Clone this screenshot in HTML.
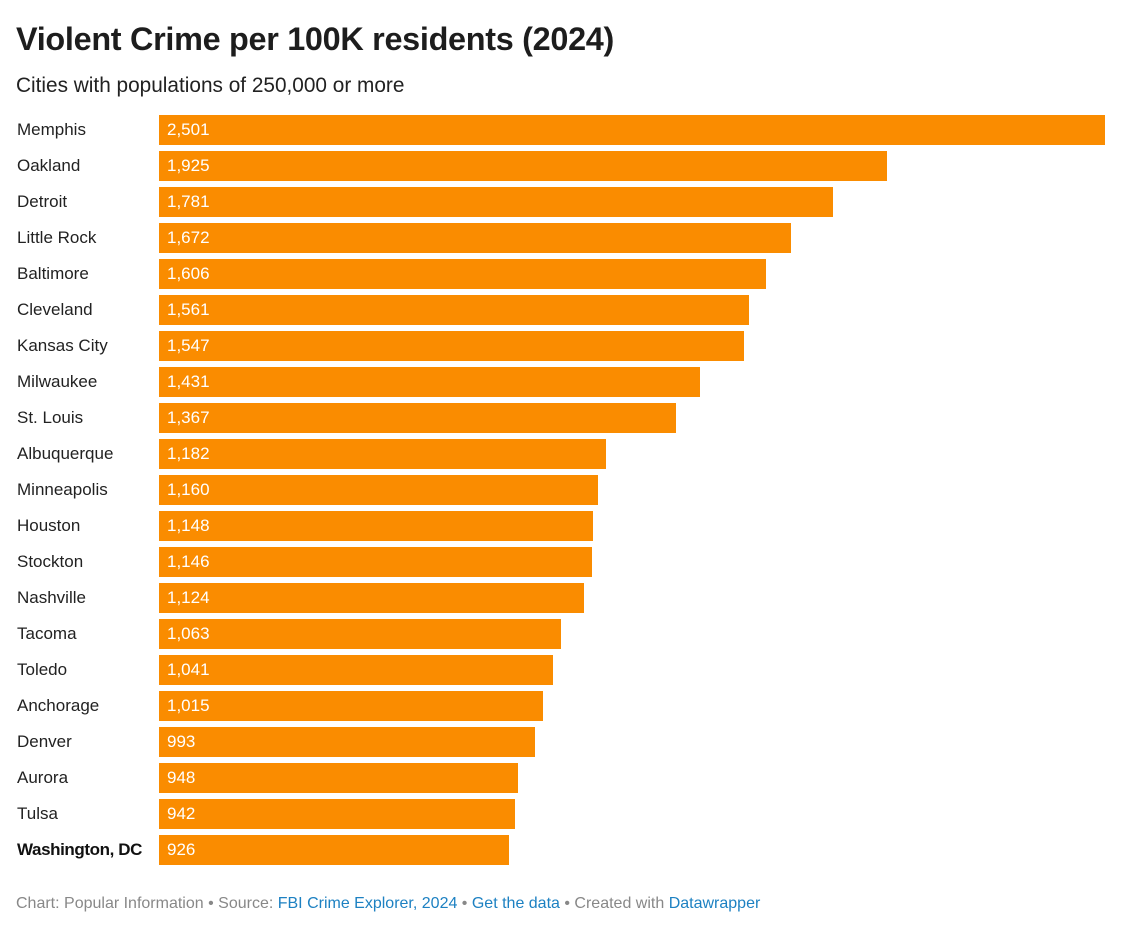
<!DOCTYPE html>
<html><head><meta charset="utf-8">
<style>
body{margin:0;width:1142px;height:938px;background:#fff;font-family:"Liberation Sans",sans-serif;position:relative;overflow:hidden}
#title{position:absolute;left:16px;top:21px;font-size:32.4px;font-weight:bold;color:#1d1d1d;letter-spacing:-0.3px}
#sub{position:absolute;left:16px;top:74px;font-size:20.8px;color:#222}
.lab{position:absolute;left:17px;font-size:17px;color:#222;height:30px;line-height:30px}
.bar{position:absolute;left:159px;height:30px;background:#fa8c00}
.val{position:absolute;left:8px;top:0;line-height:30px;font-size:17px;color:#fff}
#foot{position:absolute;left:16px;top:895px;font-size:16px;color:#888}
#foot a{color:#1d81c2;text-decoration:none}
</style></head><body>
<div id="title">Violent Crime per 100K residents (2024)</div>
<div id="sub">Cities with populations of 250,000 or more</div>
<div id="chart"></div>
<div id="foot">Chart: Popular Information • Source: <a>FBI Crime Explorer, 2024</a> • <a>Get the data</a> • Created with <a>Datawrapper</a></div>
<script>
const cities=["Memphis","Oakland","Detroit","Little Rock","Baltimore","Cleveland","Kansas City","Milwaukee","St. Louis","Albuquerque","Minneapolis","Houston","Stockton","Nashville","Tacoma","Toledo","Anchorage","Denver","Aurora","Tulsa","Washington, DC"];
const values=[2501,1925,1781,1672,1606,1561,1547,1431,1367,1182,1160,1148,1146,1124,1063,1041,1015,993,948,942,926];
const xMax=2501, xWidth=946, y0=115, step=36;
function x(v){return v/xMax*xWidth;}
function y(i){return y0+i*step;}
const c=document.getElementById('chart');
cities.forEach((name,i)=>{
  const l=document.createElement('div');
  l.className='lab';
  
  
  l.style.top=y(i)+'px';
  l.textContent=name;
  if(name==="Washington, DC"){l.style.fontWeight='bold';l.style.color='#111';l.style.letterSpacing='-0.4px';}
  c.appendChild(l);
  const b=document.createElement('div');
  b.className='bar';
  
  
  b.style.top=y(i)+'px';
  b.style.width=x(values[i])+'px';
  const t=document.createElement('span');
  t.className='val';
  
  
  t.textContent=values[i].toLocaleString('en-US');
  b.appendChild(t);
  c.appendChild(b);
});
</script>
</body></html>
